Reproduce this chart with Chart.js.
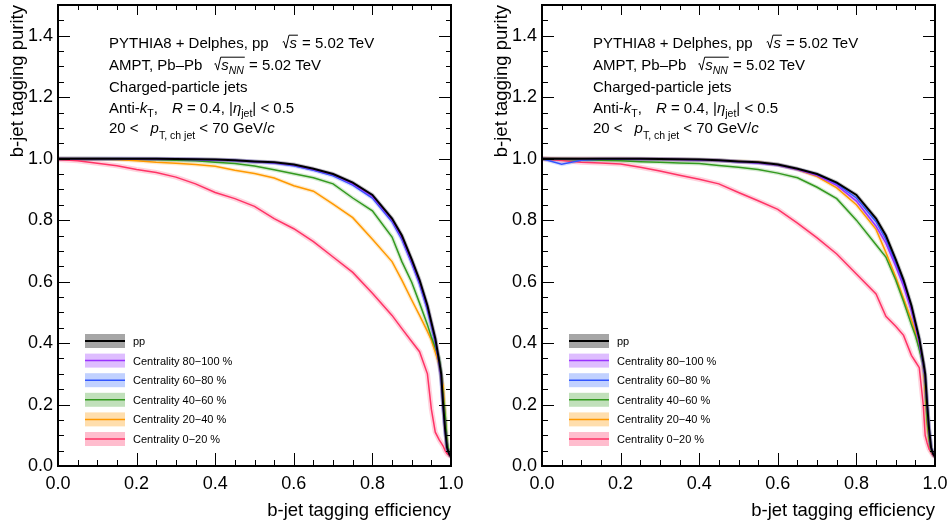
<!DOCTYPE html>
<html>
<head>
<meta charset="utf-8">
<script src="https://cdn.jsdelivr.net/npm/chart.js@4.4.0/dist/chart.umd.min.js"></script>
<style>
  html, body { margin: 0; padding: 0; background: #fff; }
  #wrap { position: relative; width: 948px; height: 525px; }
  canvas { position: absolute; top: 0; }
</style>
</head>
<body>
<div id="wrap">
  <canvas id="left-panel" width="474" height="525" style="left:0"></canvas>
  <canvas id="right-panel" width="474" height="525" style="left:474px"></canvas>
</div>
<script>
// b-jet tagging efficiency (x) shared by all curves
const efficiency = [0, 0.05, 0.1, 0.15, 0.2, 0.25, 0.3, 0.35, 0.4, 0.45, 0.5, 0.55, 0.6, 0.65, 0.7, 0.75, 0.8, 0.85, 0.875, 0.9, 0.92, 0.94, 0.95, 0.96, 0.97, 0.975, 0.98, 0.985, 0.99, 0.995, 1.0];

// purity, pp reference
const ppPurity = [1.0, 1.0, 1.0, 1.0, 1.0, 1.0, 0.999, 0.998, 0.997, 0.995, 0.991, 0.988, 0.981, 0.967, 0.950, 0.922, 0.882, 0.805, 0.750, 0.672, 0.605, 0.522, 0.468, 0.415, 0.340, 0.300, 0.200, 0.120, 0.060, 0.040, 0.030];

// left panel, Pb-Pb centrality classes
const left80to100 = [1.0, 1.0, 1.0, 1.0, 1.0, 0.999, 0.998, 0.997, 0.996, 0.994, 0.990, 0.987, 0.979, 0.965, 0.948, 0.918, 0.877, 0.800, 0.743, 0.665, 0.598, 0.515, 0.462, 0.408, 0.335, 0.290, 0.200, 0.120, 0.060, 0.040, 0.030];
const left60to80 = [1.0, 1.0, 1.0, 1.0, 0.999, 0.999, 0.998, 0.997, 0.996, 0.994, 0.990, 0.986, 0.977, 0.962, 0.944, 0.914, 0.872, 0.795, 0.737, 0.660, 0.592, 0.508, 0.456, 0.402, 0.330, 0.285, 0.195, 0.115, 0.055, 0.040, 0.030];
const left40to60 = [1.0, 1.0, 1.0, 0.999, 0.998, 0.997, 0.995, 0.993, 0.988, 0.984, 0.976, 0.964, 0.951, 0.938, 0.918, 0.872, 0.830, 0.745, 0.665, 0.598, 0.530, 0.460, 0.420, 0.385, 0.350, 0.300, 0.230, 0.170, 0.080, 0.045, 0.030];
const left20to40 = [1.0, 1.0, 0.999, 0.997, 0.993, 0.988, 0.985, 0.981, 0.975, 0.962, 0.952, 0.937, 0.912, 0.894, 0.852, 0.808, 0.738, 0.665, 0.605, 0.540, 0.490, 0.438, 0.410, 0.370, 0.330, 0.290, 0.260, 0.160, 0.060, 0.040, 0.030];
const left0to20 = [0.997, 0.993, 0.985, 0.977, 0.965, 0.955, 0.940, 0.918, 0.890, 0.870, 0.845, 0.805, 0.772, 0.730, 0.680, 0.630, 0.562, 0.490, 0.447, 0.405, 0.372, 0.300, 0.185, 0.110, 0.085, 0.075, 0.065, 0.050, 0.040, 0.035, 0.030];

// right panel, Pb-Pb centrality classes
const right80to100 = [1.0, 1.0, 1.0, 1.0, 1.0, 0.999, 0.998, 0.997, 0.996, 0.994, 0.990, 0.986, 0.979, 0.965, 0.945, 0.913, 0.862, 0.780, 0.725, 0.650, 0.585, 0.505, 0.455, 0.400, 0.330, 0.280, 0.190, 0.110, 0.055, 0.040, 0.030];
const right60to80 = [1.0, 0.982, 0.995, 0.998, 0.998, 0.998, 0.998, 0.997, 0.996, 0.994, 0.990, 0.987, 0.980, 0.966, 0.948, 0.918, 0.872, 0.795, 0.737, 0.660, 0.595, 0.512, 0.460, 0.405, 0.335, 0.290, 0.200, 0.120, 0.060, 0.040, 0.030];
const right40to60 = [1.0, 0.998, 0.996, 0.995, 0.993, 0.990, 0.988, 0.986, 0.984, 0.978, 0.972, 0.965, 0.953, 0.938, 0.907, 0.870, 0.800, 0.720, 0.680, 0.605, 0.535, 0.460, 0.425, 0.380, 0.330, 0.270, 0.150, 0.090, 0.050, 0.040, 0.030];
const right20to40 = [1.0, 1.0, 1.0, 1.0, 1.0, 0.999, 0.998, 0.997, 0.996, 0.994, 0.991, 0.988, 0.980, 0.965, 0.942, 0.905, 0.850, 0.770, 0.695, 0.615, 0.545, 0.475, 0.435, 0.395, 0.335, 0.250, 0.140, 0.090, 0.050, 0.040, 0.030];
const right0to20 = [1.0, 0.994, 0.988, 0.986, 0.983, 0.972, 0.960, 0.946, 0.933, 0.918, 0.890, 0.863, 0.835, 0.790, 0.742, 0.690, 0.625, 0.560, 0.487, 0.455, 0.425, 0.360, 0.340, 0.320, 0.200, 0.100, 0.075, 0.055, 0.045, 0.035, 0.030];

const seriesNames = ['pp', 'Centrality 80\u2212100 %', 'Centrality 60\u221280 %', 'Centrality 40\u221260 %', 'Centrality 20\u221240 %', 'Centrality 0\u221220 %'];
const lineColors = ['#000000', '#9933ff', '#3355ff', '#33991f', '#ff9900', '#ff3366'];
const bandColors = ['rgba(0,0,0,0.22)', 'rgba(153,51,255,0.2)', 'rgba(51,102,255,0.2)', 'rgba(51,153,31,0.2)', 'rgba(255,153,0,0.2)', 'rgba(255,51,102,0.22)'];
const swatchColors = ['rgba(0,0,0,0.35)', 'rgba(153,51,255,0.32)', 'rgba(51,102,255,0.3)', 'rgba(51,153,31,0.3)', 'rgba(255,153,0,0.32)', 'rgba(255,51,102,0.32)'];

const FONT = '"Liberation Sans", Arial, sans-serif';
Chart.defaults.font.family = FONT;
Chart.defaults.color = '#000';

// text block: parts with italic / subscript / square root
const infoLines = [
  [{t: 'PYTHIA8 + Delphes, pp'}, {gap: 14}, {sqrt: [{t: 's', it: true}]}, {t: ' = 5.02 TeV'}],
  [{t: 'AMPT, Pb\u2013Pb'}, {gap: 12}, {sqrt: [{t: 's', it: true}, {t: 'NN', it: true, sub: true}]}, {t: ' = 5.02 TeV'}],
  [{t: 'Charged-particle jets'}],
  [{t: 'Anti-'}, {t: 'k', it: true}, {t: 'T', sub: true}, {t: ','}, {gap: 14}, {t: 'R', it: true}, {t: ' = 0.4, |'}, {t: '\u03B7', it: true}, {t: 'jet', sub: true}, {t: '| < 0.5'}],
  [{t: '20 <'}, {gap: 12}, {t: 'p', it: true}, {t: 'T, ch jet', sub: true, dy: 6}, {t: ' < 70 GeV/'}, {t: 'c', it: true}]
];

function richLine(ctx, x, y, parts, size) {
  for (const p of parts) {
    if (p.gap) { x += p.gap; continue; }
    if (p.sqrt) { x = drawSqrt(ctx, x, y, p.sqrt, size); continue; }
    const fs = p.sub ? size * 0.7 : size;
    ctx.font = (p.it ? 'italic ' : '') + fs + 'px ' + FONT;
    const dy = p.sub ? (p.dy || size * 0.3) : 0;
    ctx.fillText(p.t, x, y + dy);
    x += ctx.measureText(p.t).width;
  }
  return x;
}

function drawSqrt(ctx, x, y, inner, size) {
  const h = size * 0.82;
  const end = richLine(ctx, x + size * 0.45, y, inner, size);
  ctx.save();
  ctx.lineWidth = 1;
  ctx.strokeStyle = '#000';
  ctx.beginPath();
  ctx.moveTo(x, y - size * 0.36);
  ctx.lineTo(x + size * 0.08, y - size * 0.4);
  ctx.lineTo(x + size * 0.22, y + size * 0.04);
  ctx.lineTo(x + size * 0.42, y - h);
  ctx.lineTo(end + 1, y - h);
  ctx.stroke();
  ctx.restore();
  return end + 1;
}

const decorPlugin = {
  id: 'decor',
  beforeDraw(chart) {
    const ctx = chart.ctx;
    ctx.save();
    ctx.fillStyle = '#fff';
    ctx.fillRect(0, 0, chart.width, chart.height);
    ctx.restore();
  },
  afterDatasetsDraw(chart) {
    const ctx = chart.ctx, a = chart.chartArea;
    const xs = chart.scales.x, ys = chart.scales.y;
    ctx.save();
    ctx.strokeStyle = '#000';
    ctx.lineWidth = 1;
    ctx.beginPath();
    for (let i = 0; i <= 20; i++) {
      const px = Math.round(xs.getPixelForValue(i * 0.05)) + 0.5;
      const major = i % 4 === 0;
      ctx.moveTo(px, a.bottom); ctx.lineTo(px, a.bottom - (major ? 13 : 6));
      ctx.moveTo(px, a.top); ctx.lineTo(px, a.top + (major ? 10 : 5));
    }
    for (let i = 0; i <= 30; i++) {
      const py = Math.round(ys.getPixelForValue(i * 0.05)) + 0.5;
      const major = i % 4 === 0;
      ctx.moveTo(a.left, py); ctx.lineTo(a.left + (major ? 12 : 6), py);
      ctx.moveTo(a.right, py); ctx.lineTo(a.right - (major ? 12 : 5), py);
    }
    ctx.stroke();
    ctx.lineWidth = 2;
    ctx.strokeRect(a.left, a.top, a.right - a.left, a.bottom - a.top);
    ctx.restore();
  },
  afterDraw(chart) {
    const ctx = chart.ctx, a = chart.chartArea;
    ctx.save();
    ctx.fillStyle = '#000';
    ctx.textBaseline = 'alphabetic';
    ctx.textAlign = 'left';
    const baselines = [47.5, 69.5, 91.5, 112.5, 132.5];
    infoLines.forEach((parts, i) => richLine(ctx, a.left + 51, baselines[i], parts, 15));

    // legend with band + line swatches
    seriesNames.forEach((name, i) => {
      const cy = 341 + i * 19.6;
      const x0 = a.left + 27;
      ctx.fillStyle = swatchColors[i];
      ctx.fillRect(x0, cy - 7, 40, 14);
      ctx.strokeStyle = lineColors[i];
      ctx.lineWidth = i === 0 ? 2 : 1.5;
      ctx.beginPath();
      ctx.moveTo(x0, cy); ctx.lineTo(x0 + 40, cy);
      ctx.stroke();
      ctx.fillStyle = '#000';
      ctx.font = '11px ' + FONT;
      ctx.textBaseline = 'middle';
      ctx.fillText(name, x0 + 48, cy + 1);
    });
    ctx.restore();
  }
};

function makePanel(id, purities, axisWidth, padRight, titlePad) {
  const datasets = [];
  purities.forEach((vals, i) => {
    const pts = efficiency.map((e, k) => ({x: e, y: vals[k]}));
    datasets.push({
      label: seriesNames[i], data: pts, borderColor: lineColors[i],
      borderWidth: i === 0 ? 2 : 1.5, pointRadius: 0, tension: 0, fill: false, order: 0
    });
    datasets.push({
      label: seriesNames[i] + ' band', data: pts, borderColor: bandColors[i],
      borderWidth: i === 5 ? 5 : 4, borderJoinStyle: 'round', pointRadius: 0, tension: 0, fill: false, order: 1
    });
  });

  return new Chart(document.getElementById(id), {
    type: 'line',
    data: { datasets: datasets },
    options: {
      responsive: false,
      animation: false,
      layout: { padding: { top: 5, right: padRight, left: 0, bottom: 0 } },
      plugins: { legend: { display: false }, tooltip: { enabled: false } },
      scales: {
        x: {
          type: 'linear', min: 0, max: 1,
          grid: { display: false, drawTicks: false }, border: { display: false },
          ticks: { stepSize: 0.2, padding: 7, font: { size: 18 }, maxRotation: 0, autoSkip: false,
                   includeBounds: false, callback: v => v.toFixed(1) },
          title: { display: true, text: 'b-jet tagging efficiency', align: 'end',
                   font: { size: 18.5 }, padding: { top: 0, bottom: 3 } },
          afterFit: s => { s.height = 59; s.paddingLeft = 0; s.paddingRight = 0; }
        },
        y: {
          type: 'linear', min: 0, max: 1.5,
          grid: { display: false, drawTicks: false }, border: { display: false },
          ticks: { stepSize: 0.2, padding: 5, font: { size: 18 }, includeBounds: false,
                   callback: v => Math.abs(v * 5 - Math.round(v * 5)) < 1e-6 ? v.toFixed(1) : '' },
          title: { display: true, text: 'b-jet tagging purity', align: 'end',
                   font: { size: 18.5 }, padding: { top: titlePad, bottom: 0 } },
          afterFit: s => { s.width = axisWidth; s.paddingTop = 0; s.paddingBottom = 0; }
        }
      }
    },
    plugins: [decorPlugin]
  });
}

makePanel('left-panel', [ppPurity, left80to100, left60to80, left40to60, left20to40, left0to20], 58, 23, 7);
makePanel('right-panel', [ppPurity, right80to100, right60to80, right40to60, right20to40, right0to20], 68, 13, 17);
</script>
</body>
</html>
